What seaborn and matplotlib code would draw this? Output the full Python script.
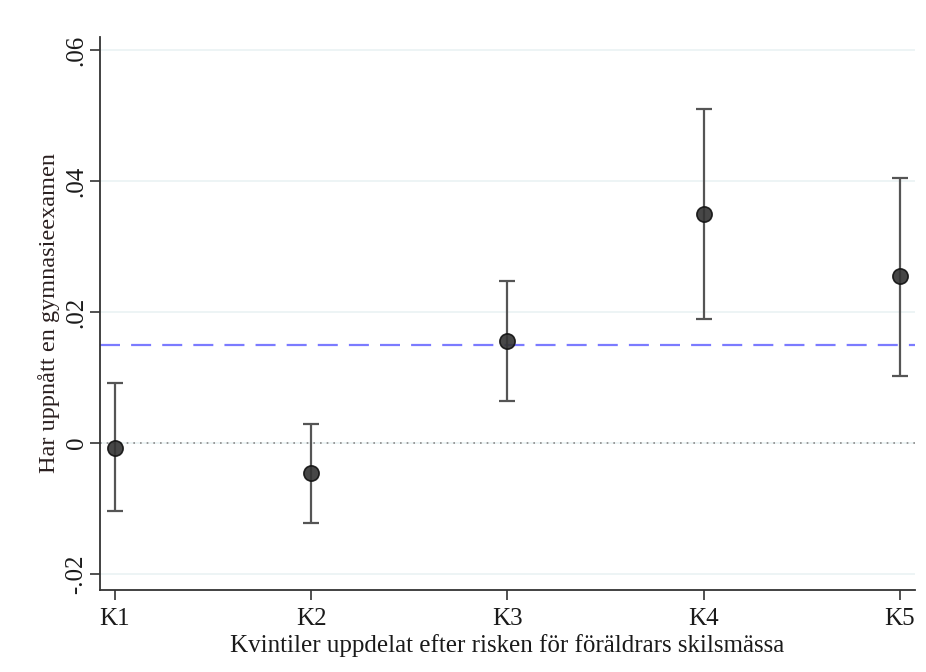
import seaborn as sns
import matplotlib.pyplot as plt
import pandas as pd
import numpy as np

# kvintiler och skattningar
kvintiler = ['K1', 'K2', 'K3', 'K4', 'K5']
koef = [-0.0008, -0.0046, 0.0156, 0.0350, 0.0255]
ci_low = [-0.0104, -0.0122, 0.0065, 0.0190, 0.0103]
ci_high = [0.0092, 0.0029, 0.0248, 0.0510, 0.0405]
medel = 0.015
yticks = [-0.02, 0, 0.02, 0.04, 0.06]
ytick_labels = ['-.02', '0', '.02', '.04', '.06']

df = pd.DataFrame({'kvintil': kvintiler, 'koef': koef,
                   'low': ci_low, 'high': ci_high})
df['x'] = np.arange(len(df))

sns.set_style("white")
plt.rcParams['font.family'] = ['Liberation Serif', 'DejaVu Serif']

fig = plt.figure(figsize=(9.26, 6.72), dpi=100)
ax = fig.add_axes([0.108, 0.122, 0.880, 0.823])

# rutnät
for t in yticks:
    ax.axhline(t, color='#eaf2f3', lw=1.2, zorder=0)

ax.axhline(0, color='#8a8a8a', lw=1.2, ls=(0, (1, 3)), zorder=1)
ax.axhline(medel, color='#7b7bff', lw=1.6, ls=(0, (9, 5)), zorder=1)

ax.errorbar(df['x'], df['koef'],
            yerr=[df['koef'] - df['low'], df['high'] - df['koef']],
            fmt='none', ecolor='#555555', elinewidth=1.6, capsize=6,
            capthick=1.6, zorder=2)
sns.scatterplot(data=df, x='x', y='koef', ax=ax, s=120, color='#333333',
                edgecolor='#111111', linewidth=1.2, alpha=0.9, zorder=3,
                legend=False)

ax.set_xlim(-0.076, 4.076)
ax.set_ylim(-0.0224, 0.0620)
ax.set_xticks(df['x'])
ax.set_xticklabels(kvintiler, fontsize=18)
ax.set_yticks(yticks)
ax.set_yticklabels(ytick_labels, fontsize=18, rotation=90, va='center')
ax.tick_params(axis='both', direction='out', length=7, width=1.2,
               color='#333333', labelcolor='#1a1a1a')
ax.tick_params(axis='x', bottom=True, pad=6)
ax.tick_params(axis='y', left=True, pad=2)

sns.despine(ax=ax, top=True, right=True)
for s in ['left', 'bottom']:
    ax.spines[s].set_color('#333333')
    ax.spines[s].set_linewidth(1.3)

ax.set_xlabel('Kvintiler uppdelat efter risken för föräldrars skilsmässa',
              fontsize=18, color='#1a1a1a', labelpad=3)
ax.set_ylabel('Har uppnått en gymnasieexamen', fontsize=17.5,
              color='#2a1f1f', labelpad=4)

fig.savefig('out.png', dpi=100, facecolor='white')
